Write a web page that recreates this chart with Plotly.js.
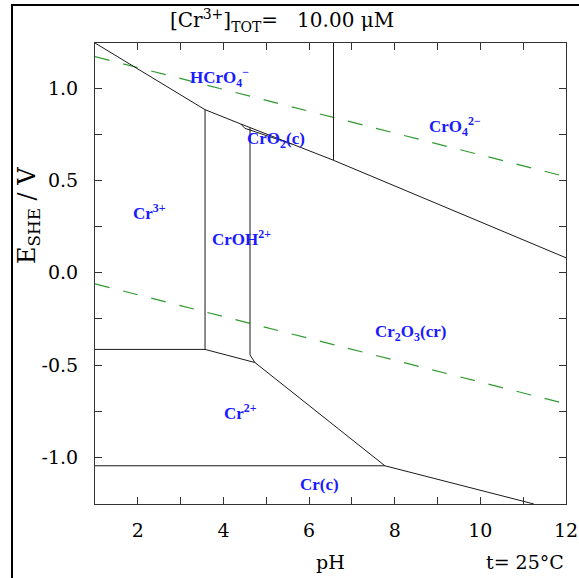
<!DOCTYPE html>
<html>
<head>
<meta charset="utf-8">
<script src="https://cdn.plot.ly/plotly-3.0.1.min.js"></script>
<style>html,body{margin:0;padding:0;background:#fff;}</style>
</head>
<body>
<div id="chart" style="width:579px;height:578px;"></div>
<script>
// ---- data (pH, E in V vs SHE) ----
const upperPH = [1, 3.57, 4.40, 5.59, 6.57, 12];
const upperE  = [1.244, 0.883, 0.806, 0.697, 0.609, 0.081];
const sliverPH = [4.40, 4.50, 5.59];
const sliverE  = [0.806, 0.782, 0.697];
const vHCrPH = [6.57, 6.57];
const vHCrE  = [1.244, 0.609];
const vCr3PH = [3.57, 3.57];
const vCr3E  = [0.883, -0.415];
const vCrOHPH = [4.62, 4.62, 4.735];
const vCrOHE  = [0.785, -0.445, -0.486];
const cr3cr2PH = [1, 3.57];
const cr3cr2E  = [-0.415, -0.415];
const crohcr2PH = [3.57, 4.735];
const crohcr2E  = [-0.415, -0.486];
const steepPH = [4.735, 7.77];
const steepE  = [-0.486, -1.045];
const crcoxPH = [7.77, 11.25];
const crcoxE  = [-1.045, -1.252];
const cr2crPH = [1, 7.77];
const cr2crE  = [-1.045, -1.045];
const waterPH = [1, 12];
const o2E = [1.17, 0.52];
const h2E = [-0.06, -0.71];

const labelText = ["HCrO<sub>4</sub><sup>\u2212</sup>", "CrO<sub>4</sub><sup>2\u2212</sup>", "CrO<sub>2</sub>(c)", "Cr<sup>3+</sup>",
                   "CrOH<sup>2+</sup>", "Cr<sub>2</sub>O<sub>3</sub>(cr)", "Cr<sup>2+</sup>", "Cr(c)"];
const labelPH = [3.90, 9.41, 5.23, 2.28, 4.43, 8.36, 4.39, 6.25];
const labelE  = [1.058, 0.793, 0.717, 0.328, 0.187, -0.326, -0.753, -1.148];

const xTickVals = [1,2,3,4,5,6,7,8,9,10,11,12];
const xTickText = ["","2","","4","","6","","8","","10","","12"];
const yTickVals = [-1.0,-0.75,-0.5,-0.25,0,0.25,0.5,0.75,1.0];
const yTickText = ["-1.0","","-0.5","","0.0","","0.5","","1.0"];

const serif = "DejaVu Serif";
const blk = {color:"#1a1a1a", width:1};
const grn = {color:"#2f9a2f", width:1.2, dash:"15px,14px"};
function ln(x,y,line){return {x:x,y:y,mode:"lines",line:line,hoverinfo:"skip",showlegend:false,type:"scatter"};}

const traces = [
  ln(waterPH,o2E,grn), ln(waterPH,h2E,grn),
  ln(upperPH,upperE,blk), ln(sliverPH,sliverE,blk),
  ln(vHCrPH,vHCrE,blk), ln(vCr3PH,vCr3E,blk), ln(vCrOHPH,vCrOHE,blk),
  ln(cr3cr2PH,cr3cr2E,blk), ln(crohcr2PH,crohcr2E,blk),
  ln(steepPH,steepE,blk), ln(crcoxPH,crcoxE,blk), ln(cr2crPH,cr2crE,blk)
];

const L=95, R=566, T=43, B=504;
const pw=R-L, ph=B-T;
function px(x){return (x-L)/pw;}
function py(y){return (B-y)/ph;}

const annotations = labelText.map((t,i)=>({x:labelPH[i],y:labelE[i],xref:"x",yref:"y",text:t,showarrow:false,
  xanchor:"center",yanchor:"middle",
  font:{family:"Liberation Serif",size:17,weight:"bold",color:"#1a1aff"}}));
function pa(x,y,text,size,angle){
  return {x:px(x),y:py(y),xref:"paper",yref:"paper",showarrow:false,xanchor:"center",yanchor:"middle",
    textangle:angle||0,text:text,font:{family:serif,size:size,color:"#000"}};
}
annotations.push(pa(282,20,"[Cr<sup>3+</sup>]<sub>TOT</sub>=\u00a0\u00a0\u00a010.00 \u03bcM",20));
annotations.push(pa(330,562,"pH",19));
annotations.push(pa(525,562,"t= 25\u00b0C",19));
annotations.push(pa(28,216,"E<sub>SHE</sub> / V",24,-90));

const layout = {
  width:579, height:578,
  margin:{l:L,r:579-R,t:T,b:578-B,pad:0},
  paper_bgcolor:"#fff", plot_bgcolor:"#fff",
  showlegend:false,
  xaxis:{range:[1,12],tickmode:"array",tickvals:xTickVals,ticktext:xTickText,ticks:"inside",ticklen:7,
    tickcolor:"#333",showline:true,linecolor:"#333",linewidth:1,mirror:"ticks",showgrid:false,zeroline:false,
    tickfont:{family:serif,size:19,color:"#000"},ticklabelstandoff:9},
  yaxis:{range:[-1.252,1.244],tickmode:"array",tickvals:yTickVals,ticktext:yTickText,ticks:"inside",ticklen:7,
    tickcolor:"#333",showline:true,linecolor:"#333",linewidth:1,mirror:"ticks",showgrid:false,zeroline:false,
    tickfont:{family:serif,size:19,color:"#000"},ticklabelstandoff:12},
  annotations:annotations,
  shapes:[{type:"rect",xref:"paper",yref:"paper",x0:px(12),x1:px(640),y0:py(640),y1:py(5),
    line:{color:"#000",width:2},layer:"below"}]
};

Plotly.newPlot("chart",traces,layout,{staticPlot:true,displayModeBar:false});
</script>
</body>
</html>
